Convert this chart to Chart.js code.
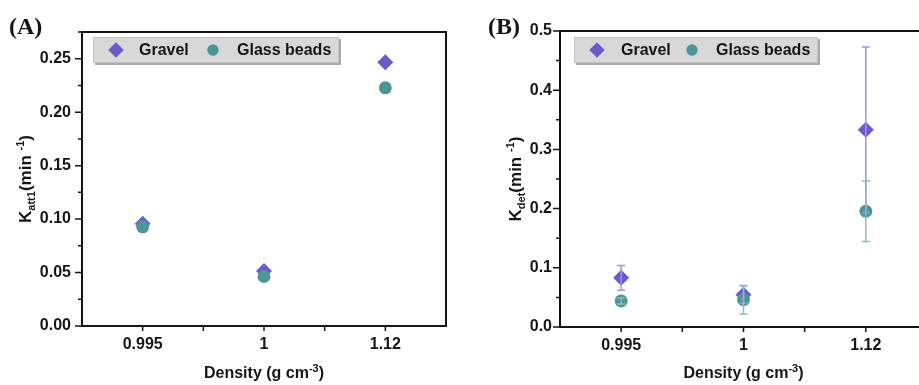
<!DOCTYPE html>
<html>
<head>
<meta charset="utf-8">
<script src="https://cdn.jsdelivr.net/npm/chart.js@4.4.1/dist/chart.umd.min.js"></script>
<style>
  html, body { margin: 0; padding: 0; background: #fff; overflow: hidden; width: 919px; height: 385px; }
  #boxA { position: absolute; left: 0; top: 0; width: 460px; height: 385px; overflow: hidden; }
  #boxB { position: absolute; left: 460px; top: 0; width: 459px; height: 385px; overflow: hidden; }
  canvas { display: block; }
</style>
</head>
<body>
<div id="boxA"><canvas id="chartA" width="460" height="385"></canvas></div>
<div id="boxB"><canvas id="chartB" width="475" height="385"></canvas></div>
<script>
// values
const densities = ['0.995', '1', '1.12'];

// panel A: bars are hidden behind the markers
const gravelAtt = [0.0956, 0.0515, 0.2467];
const gravelAttErr = [0, 0, 0];
const glassAtt = [0.0928, 0.0463, 0.2228];
const glassAttErr = [0, 0, 0];

const gravelDet = [0.083, 0.0545, 0.333];
const gravelDetErr = [0.021, 0.015, 0.140];
const glassDet = [0.044, 0.046, 0.1955];
const glassDetErr = [0.005, 0.024, 0.051];

const attTicks = [0, 0.05, 0.10, 0.15, 0.20, 0.25];
const detTicks = [0, 0.1, 0.2, 0.3, 0.4, 0.5];

const GRAVEL = '#6a5cc8';
const GLASS = '#4d9696';
const GRAVEL_BAR = '#9d97de';
const GLASS_BAR = '#8dbdbd';
const INK = '#151515';
const FONT = '"Liberation Sans", Arial, sans-serif';

// draw text made of pieces (sub/superscripts), centred on (x, y)
function drawRich(ctx, parts, x, y, angle) {
  ctx.save();
  ctx.translate(x, y);
  ctx.rotate(angle);
  let total = 0;
  parts.forEach(p => {
    ctx.font = `bold ${p.size}px ${FONT}`;
    total += ctx.measureText(p.t).width;
  });
  let cx = -total / 2;
  ctx.fillStyle = INK;
  ctx.textBaseline = 'alphabetic';
  ctx.textAlign = 'left';
  parts.forEach(p => {
    ctx.font = `bold ${p.size}px ${FONT}`;
    ctx.fillText(p.t, cx, (p.dy || 0) + 6);
    cx += ctx.measureText(p.t).width;
  });
  ctx.restore();
}

const errorBarPlugin = {
  id: 'errorBars',
  afterDatasetsDraw(chart, args, opts) {
    const ctx = chart.ctx;
    const xs = chart.scales.x, ys = chart.scales.y;
    opts.sets.forEach(set => {
      ctx.save();
      ctx.strokeStyle = set.color;
      ctx.lineWidth = 1.5;
      set.values.forEach((v, i) => {
        if (!set.errors[i]) return;
        const px = xs.getPixelForValue(i);
        const top = ys.getPixelForValue(v + set.errors[i]);
        const bot = ys.getPixelForValue(v - set.errors[i]);
        ctx.beginPath();
        ctx.moveTo(px, top); ctx.lineTo(px, bot);
        ctx.moveTo(px - 4, top); ctx.lineTo(px + 4, top);
        ctx.moveTo(px - 4, bot); ctx.lineTo(px + 4, bot);
        ctx.stroke();
      });
      ctx.restore();
    });
  }
};

const framePlugin = {
  id: 'panel',
  afterDraw(chart, args, opts) {
    const ctx = chart.ctx;
    const a = chart.chartArea;
    const xs = chart.scales.x, ys = chart.scales.y;
    ctx.save();
    ctx.strokeStyle = INK;

    // tick marks
    ctx.lineWidth = 1.5;
    ctx.beginPath();
    opts.yTicks.forEach((v, i) => {
      const py = ys.getPixelForValue(v);
      ctx.moveTo(a.left - 7, py); ctx.lineTo(a.left, py);
      if (i < opts.yTicks.length - 1) {
        const my = ys.getPixelForValue((v + opts.yTicks[i + 1]) / 2);
        ctx.moveTo(a.left - 4, my); ctx.lineTo(a.left, my);
      }
    });
    if (opts.yMinorTop) {
      const my = ys.getPixelForValue(opts.yMinorTop);
      ctx.moveTo(a.left - 4, my); ctx.lineTo(a.left, my);
    }
    densities.forEach((d, i) => {
      const px = xs.getPixelForValue(i);
      ctx.moveTo(px, a.bottom); ctx.lineTo(px, a.bottom + 5);
      if (i < densities.length - 1) {
        const mx = (px + xs.getPixelForValue(i + 1)) / 2;
        ctx.moveTo(mx, a.bottom); ctx.lineTo(mx, a.bottom + 5);
      }
    });
    ctx.stroke();

    // frame (panel B is cut off on the right in the figure)
    ctx.lineWidth = 2;
    ctx.beginPath();
    if (opts.openRight) {
      ctx.moveTo(a.right + 10, a.top);
      ctx.lineTo(a.left, a.top);
      ctx.lineTo(a.left, a.bottom);
      ctx.lineTo(a.right + 10, a.bottom);
    } else {
      ctx.rect(a.left, a.top, a.right - a.left, a.bottom - a.top);
    }
    ctx.stroke();

    // legend
    const L = opts.legend;
    ctx.fillStyle = '#a9a9a9';
    ctx.fillRect(L.x + 2, L.y + 2, L.w, L.h);
    ctx.fillStyle = '#d8d8d8';
    ctx.fillRect(L.x, L.y, L.w, L.h);
    ctx.lineWidth = 1;
    ctx.strokeStyle = '#c4c4c4';
    ctx.strokeRect(L.x + 0.5, L.y + 0.5, L.w - 1, L.h - 1);
    const cy = L.y + L.h / 2;
    ctx.fillStyle = GRAVEL;
    Chart.helpers.drawPoint(ctx, { pointStyle: 'rectRot', radius: 7.5, borderWidth: 0 }, L.x + L.marks[0], cy);
    ctx.fill();
    ctx.fillStyle = GLASS;
    Chart.helpers.drawPoint(ctx, { pointStyle: 'circle', radius: 5.5, borderWidth: 0 }, L.x + L.marks[1], cy);
    ctx.fill();
    ctx.fillStyle = INK;
    ctx.font = `bold 16px ${FONT}`;
    ctx.textBaseline = 'middle';
    ctx.textAlign = 'left';
    ctx.fillText('Gravel', L.x + L.texts[0], cy + 1);
    ctx.fillText('Glass beads', L.x + L.texts[1], cy + 1);

    // axis titles
    drawRich(ctx, opts.yTitle, opts.yTitleX, (a.top + a.bottom) / 2, -Math.PI / 2);
    drawRich(ctx, [
      { t: 'Density (g cm', size: 16 },
      { t: '-3', size: 11, dy: -6 },
      { t: ')', size: 16 }
    ], (a.left + a.right) / 2, opts.xTitleY, 0);

    // panel letter
    ctx.fillStyle = INK;
    ctx.font = 'bold 24px "Liberation Serif", "Times New Roman", serif';
    ctx.textBaseline = 'alphabetic';
    ctx.textAlign = 'left';
    ctx.fillText(opts.letter, opts.letterX, 34);
    ctx.restore();
  }
};

function makeChart(id, cfg) {
  return new Chart(document.getElementById(id), {
    type: 'line',
    data: {
      labels: densities,
      datasets: [
        {
          label: 'Gravel', data: cfg.gravel, showLine: false, order: 1,
          pointStyle: 'rectRot', pointRadius: 8,
          pointBackgroundColor: GRAVEL, pointBorderColor: GRAVEL, pointBorderWidth: 0
        },
        {
          label: 'Glass beads', data: cfg.glass, showLine: false, order: 0,
          pointStyle: 'circle', pointRadius: 6.5,
          pointBackgroundColor: GLASS, pointBorderColor: GLASS, pointBorderWidth: 0
        }
      ]
    },
    options: {
      responsive: false,
      animation: false,
      layout: { padding: { top: cfg.top, right: cfg.right, left: 0, bottom: 0 } },
      plugins: {
        legend: { display: false },
        tooltip: { enabled: false },
        errorBars: {
          sets: [
            { values: cfg.gravel, errors: cfg.gravelErr, color: GRAVEL_BAR },
            { values: cfg.glass, errors: cfg.glassErr, color: GLASS_BAR }
          ]
        },
        panel: cfg.panel
      },
      scales: {
        x: {
          offset: true,
          grid: { display: false, drawTicks: false },
          border: { display: false },
          ticks: { color: INK, font: { family: FONT, size: 16, weight: 'bold' }, padding: 9 },
          afterFit: s => { s.height = cfg.xHeight; }
        },
        y: {
          min: 0,
          max: cfg.yMax,
          grid: { display: false, drawTicks: false },
          border: { display: false },
          ticks: {
            color: INK, font: { family: FONT, size: 16, weight: 'bold' }, padding: cfg.yPad,
            callback: v => v.toFixed(cfg.decimals)
          },
          afterBuildTicks: s => { s.ticks = cfg.yTicks.map(v => ({ value: v })); },
          afterFit: s => { s.width = cfg.yWidth; }
        }
      }
    },
    plugins: [errorBarPlugin, framePlugin]
  });
}

makeChart('chartA', {
  gravel: gravelAtt, gravelErr: gravelAttErr,
  glass: glassAtt, glassErr: glassAttErr,
  yTicks: attTicks, yMax: 0.275, decimals: 2,
  top: 32, right: 14, yWidth: 82, xHeight: 59, yPad: 11,
  panel: {
    yTicks: attTicks, yMinorTop: 0.275, openRight: false,
    legend: { x: 93, y: 37, w: 246, h: 26, marks: [23, 120], texts: [46, 144] },
    yTitle: [
      { t: 'K', size: 17 },
      { t: 'att1', size: 11, dy: 4 },
      { t: '(min ', size: 17 },
      { t: '-1', size: 11, dy: -7 },
      { t: ')', size: 17 }
    ],
    yTitleX: 25, xTitleY: 372, letter: '(A)', letterX: 9
  }
});

makeChart('chartB', {
  gravel: gravelDet, gravelErr: gravelDetErr,
  glass: glassDet, glassErr: glassDetErr,
  yTicks: detTicks, yMax: 0.5, decimals: 1,
  top: 31, right: 4, yWidth: 100, xHeight: 58, yPad: 8,
  panel: {
    yTicks: detTicks, yMinorTop: null, openRight: true,
    legend: { x: 114, y: 37, w: 244, h: 26, marks: [23, 118], texts: [47, 142] },
    yTitle: [
      { t: 'K', size: 17 },
      { t: 'det', size: 11, dy: 4 },
      { t: '(min ', size: 17 },
      { t: '-1', size: 11, dy: -7 },
      { t: ')', size: 17 }
    ],
    yTitleX: 55, xTitleY: 372, letter: '(B)', letterX: 28
  }
});
</script>
</body>
</html>
